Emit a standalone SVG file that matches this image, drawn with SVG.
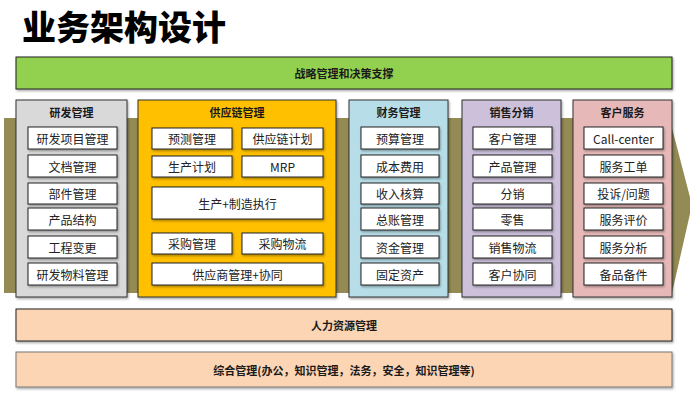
<svg xmlns="http://www.w3.org/2000/svg" width="690" height="395" viewBox="0 0 690 395">
<defs>
<filter id="sh" x="-10%" y="-10%" width="120%" height="130%">
<feDropShadow dx="1" dy="1.5" stdDeviation="1" flood-color="#000" flood-opacity="0.35"/>
</filter>
<style>
text{font-family:"Microsoft YaHei","Noto Sans CJK SC","Liberation Sans",sans-serif;fill:#1a1a1a;text-anchor:middle;dominant-baseline:central}
.title{font-size:34px;font-weight:900;text-anchor:start;fill:#000}
.bar{stroke:#222;stroke-width:1;filter:url(#sh)}
.bar2{stroke:#777;stroke-width:1;filter:url(#sh)}
.col{stroke:#333;stroke-width:1;filter:url(#sh)}
.item{fill:#fff;stroke:#222;stroke-width:1;filter:url(#sh)}
.h{font-size:11px;font-weight:bold}
.t{font-size:12px;fill:#222}
</style>
</defs>
<rect width="690" height="395" fill="#fff"/>
<text class="title" x="22" y="25">业务架构设计</text>

<g id="strategy">
<rect class="bar" x="16" y="57" width="656" height="32" fill="#92d050"/>
<text class="h" x="344" y="73">战略管理和决策支撑</text>
</g>

<g id="connectors">
<polygon points="4,118 672,118 672,128 692,205 672,293 4,293" fill="#948a54"/>
</g>

<g id="rd">
<rect class="col" x="16" y="100" width="111" height="197" fill="#d9d9d9"/>
<text class="h" x="71.5" y="112">研发管理</text>
<rect class="item" x="28" y="127" width="89" height="22"/><text class="t" x="72.5" y="138">研发项目管理</text>
<rect class="item" x="28" y="155" width="89" height="22"/><text class="t" x="72.5" y="166">文档管理</text>
<rect class="item" x="28" y="183" width="89" height="21"/><text class="t" x="72.5" y="193.5">部件管理</text>
<rect class="item" x="28" y="208" width="89" height="22"/><text class="t" x="72.5" y="219">产品结构</text>
<rect class="item" x="28" y="236" width="89" height="22"/><text class="t" x="72.5" y="247">工程变更</text>
<rect class="item" x="28" y="263" width="89" height="22"/><text class="t" x="72.5" y="274">研发物料管理</text>
</g>

<g id="scm">
<rect class="col" x="138" y="100" width="198" height="197" fill="#ffc000"/>
<text class="h" x="237" y="112">供应链管理</text>
<rect class="item" x="152" y="128" width="80" height="21"/><text class="t" x="192" y="138.5">预测管理</text>
<rect class="item" x="242" y="128" width="81" height="21"/><text class="t" x="282.5" y="138.5">供应链计划</text>
<rect class="item" x="152" y="156" width="80" height="21"/><text class="t" x="192" y="166.5">生产计划</text>
<rect class="item" x="242" y="156" width="81" height="21"/><text class="t" x="282.5" y="166.5">MRP</text>
<rect class="item" x="152" y="187" width="171" height="32"/><text class="t" x="237.5" y="203">生产+制造执行</text>
<rect class="item" x="152" y="233" width="80" height="21"/><text class="t" x="192" y="243.5">采购管理</text>
<rect class="item" x="242" y="233" width="81" height="21"/><text class="t" x="282.5" y="243.5">采购物流</text>
<rect class="item" x="152" y="263" width="171" height="22"/><text class="t" x="237.5" y="274">供应商管理+协同</text>
</g>

<g id="finance">
<rect class="col" x="349" y="100" width="99" height="197" fill="#b7dee8"/>
<text class="h" x="398.5" y="112">财务管理</text>
<rect class="item" x="361" y="127" width="78" height="22"/><text class="t" x="400" y="138">预算管理</text>
<rect class="item" x="361" y="155" width="78" height="22"/><text class="t" x="400" y="166">成本费用</text>
<rect class="item" x="361" y="183" width="78" height="21"/><text class="t" x="400" y="193.5">收入核算</text>
<rect class="item" x="361" y="208" width="78" height="22"/><text class="t" x="400" y="219">总账管理</text>
<rect class="item" x="361" y="236" width="78" height="22"/><text class="t" x="400" y="247">资金管理</text>
<rect class="item" x="361" y="263" width="78" height="22"/><text class="t" x="400" y="274">固定资产</text>
</g>

<g id="sales">
<rect class="col" x="462" y="100" width="99" height="197" fill="#ccc0da"/>
<text class="h" x="511.5" y="112">销售分销</text>
<rect class="item" x="473" y="127" width="79" height="22"/><text class="t" x="512.5" y="138">客户管理</text>
<rect class="item" x="473" y="155" width="79" height="22"/><text class="t" x="512.5" y="166">产品管理</text>
<rect class="item" x="473" y="183" width="79" height="21"/><text class="t" x="512.5" y="193.5">分销</text>
<rect class="item" x="473" y="208" width="79" height="22"/><text class="t" x="512.5" y="219">零售</text>
<rect class="item" x="473" y="236" width="79" height="22"/><text class="t" x="512.5" y="247">销售物流</text>
<rect class="item" x="473" y="263" width="79" height="22"/><text class="t" x="512.5" y="274">客户协同</text>
</g>

<g id="service">
<rect class="col" x="573" y="100" width="99" height="197" fill="#e6b9b8"/>
<text class="h" x="622.5" y="112">客户服务</text>
<rect class="item" x="584" y="127" width="79" height="22"/><text class="t" x="623.5" y="138">Call-center</text>
<rect class="item" x="584" y="155" width="79" height="22"/><text class="t" x="623.5" y="166">服务工单</text>
<rect class="item" x="584" y="183" width="79" height="21"/><text class="t" x="623.5" y="193.5">投诉/问题</text>
<rect class="item" x="584" y="208" width="79" height="22"/><text class="t" x="623.5" y="219">服务评价</text>
<rect class="item" x="584" y="236" width="79" height="22"/><text class="t" x="623.5" y="247">服务分析</text>
<rect class="item" x="584" y="263" width="79" height="22"/><text class="t" x="623.5" y="274">备品备件</text>
</g>

<g id="hr">
<rect class="bar" x="16" y="309" width="656" height="32" fill="#fcd5b4"/>
<text class="h" x="344" y="325">人力资源管理</text>
</g>

<g id="general">
<rect class="bar2" x="16" y="352" width="656" height="35" fill="#fcd5b4"/>
<text class="h" x="344" y="369.5">综合管理(办公，知识管理，法务，安全，知识管理等)</text>
</g>
</svg>
